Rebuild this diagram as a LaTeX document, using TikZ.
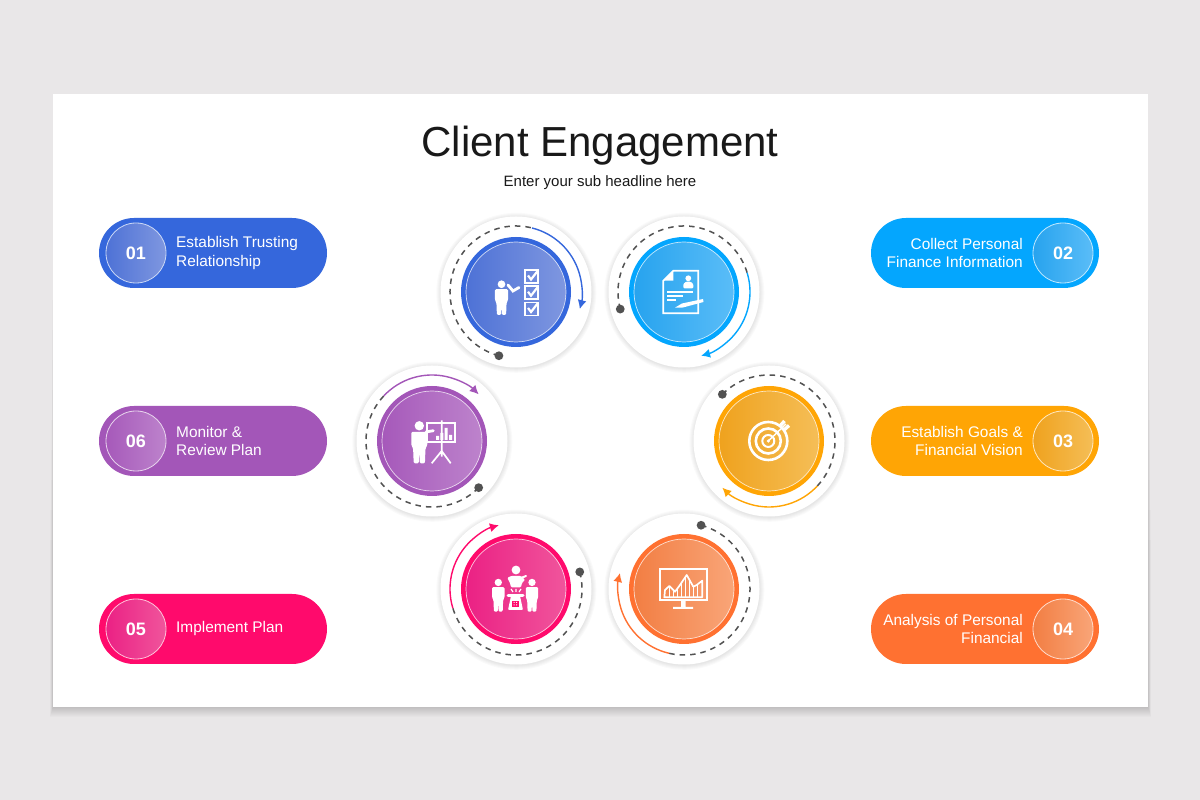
\documentclass[tikz,border=0pt]{standalone}
\usepackage{fontspec}
\setmainfont{Liberation Sans}
\usetikzlibrary{arrows.meta}

% ring colours
\definecolor{pageback}{HTML}{E9E7E8}
\definecolor{blueBase}{HTML}{3567DC}  \definecolor{blueLeft}{HTML}{4E72D6}  \definecolor{blueRight}{HTML}{7F97E0}
\definecolor{skyBase}{HTML}{04A6FE}   \definecolor{skyLeft}{HTML}{27A3EE}   \definecolor{skyRight}{HTML}{5ABDF8}
\definecolor{goldBase}{HTML}{FFA505}  \definecolor{goldLeft}{HTML}{EFA21E}  \definecolor{goldRight}{HTML}{F5BE57}
\definecolor{rustBase}{HTML}{FF7131}  \definecolor{rustLeft}{HTML}{F27E43}  \definecolor{rustRight}{HTML}{F9A578}
\definecolor{pinkBase}{HTML}{FF0A6C}  \definecolor{pinkLeft}{HTML}{EB2184}  \definecolor{pinkRight}{HTML}{F0559C}
\definecolor{plumBase}{HTML}{A356B8}  \definecolor{plumLeft}{HTML}{A659BA}  \definecolor{plumRight}{HTML}{BD83CC}

\tikzset{
  pill/.style={minimum width=228,minimum height=70,rounded corners=35,inner sep=0,fill=#1Base},
  badge/.style={circle,minimum size=60,inner sep=0,draw=white!75!#1Base,line width=.8,
    left color=#1Left,right color=#1Right,text=white,font=\bfseries\fontsize{18}{20}\selectfont},
  pilltext/.style={text=white,inner sep=0,font=\fontsize{15.4}{18.4}\selectfont},
  thickwhite/.style={white,line width=1.7}
}

% disc with its ring, dashed track and solid arrow: x, y, colour, dot angle, arrow start, arrow end
\newcommand{\stagedisc}[6]{
  \begin{scope}[shift={(#1,#2)}]
    \foreach \r in {5,4,3,2,1}
      \fill[black,opacity=.018] (.3,-.8) circle ({75+\r});
    \fill[white] (0,0) circle (75.5);
    \fill[#3Base] (0,0) circle (55);
    \shade[left color=#3Left,right color=#3Right] (0,0) circle (50);
    \draw[white,opacity=.75,line width=.7] (0,0) circle (50);
    \draw[black!68,line width=1.5,dash pattern=on 5.5 off 5] (#4:66) arc (#4:#5:66);
    \fill[black!68] (#4:66) circle (4.4);
    \draw[#3Base,line width=1.4,-{Latex[length=9,width=9]}] (#5:66) arc (#5:#6:66);
  \end{scope}
}
% standing figure, feet at x,y
\newcommand{\figureicon}[3]{
  \begin{scope}[shift={(#1,#2)},scale=#3]
    \fill[white] (0,37.5) circle (4.7);
    \fill[white,rounded corners=1.2] (-8,31.5) -- (8,31.5) -- (8,18) -- (6.2,15) -- (5.6,0) -- (.5,0)
      -- (.2,9) -- (-.2,9) -- (-.5,0) -- (-5.6,0) -- (-6.2,15) -- (-8,18) -- cycle;
  \end{scope}
}
\newcommand{\tickbox}[2]{
  \draw[thickwhite] (#1-6.5,#2-6.5) rectangle (#1+6.5,#2+6.5);
  \draw[white,line width=2.2] (#1-3.5,#2+1) -- (#1-.5,#2-3) -- (#1+6.5,#2+6);
}

\begin{document}
\begin{tikzpicture}[x=1pt,y=1pt]
\useasboundingbox (0,0) rectangle (1200,800);
\fill[pageback] (0,0) rectangle (1200,800);

%-------------------------------------------- Card
\foreach \d in {1,...,10}
  \fill[black,opacity=.014] ({53-.3*\d},{93-\d}) rectangle ({1148+.3*\d},{560-30*\d});
\fill[white] (53,93) rectangle (1148,706);
\node[font=\fontsize{42}{46}\selectfont,text=black!90] (title) at (600,654) {Client Engagement};
\node[font=\fontsize{15}{18}\selectfont,text=black!90] (subtitle) at (600,617) {Enter your sub headline here};

%-------------------------------------------- Left pills
\node[pill=blue] (pillone) at (213,547) {};
\node[badge=blue] (numone) at (136,547) {01};
\node[pilltext,anchor=west,align=left] (textone) at (176,547) {Establish Trusting\\Relationship};

\node[pill=plum] (pillsix) at (213,359) {};
\node[badge=plum] (numsix) at (136,359) {06};
\node[pilltext,anchor=west,align=left] (textsix) at (176,359) {Monitor \&\\Review Plan};

\node[pill=pink] (pillfive) at (213,171) {};
\node[badge=pink] (numfive) at (136,171) {05};
\node[pilltext,anchor=west,align=left] (textfive) at (176,171) {Implement Plan};

%-------------------------------------------- Right pills
\node[pill=sky] (pilltwo) at (985,547) {};
\node[badge=sky] (numtwo) at (1063,547) {02};
\node[pilltext,anchor=east,align=right] (texttwo) at (1023,547) {Collect Personal\\Finance Information};

\node[pill=gold] (pillthree) at (985,359) {};
\node[badge=gold] (numthree) at (1063,359) {03};
\node[pilltext,anchor=east,align=right] (textthree) at (1023,359) {Establish Goals \&\\Financial Vision};

\node[pill=rust] (pillfour) at (985,171) {};
\node[badge=rust] (numfour) at (1063,171) {04};
\node[pilltext,anchor=east,align=right] (textfour) at (1023,171) {Analysis of Personal\\Financial};

%-------------------------------------------- Discs
\stagedisc{516}{508}{blue}{255}{76}{-15}
\stagedisc{684}{508}{sky}{195}{17}{-75}
\stagedisc{769}{359}{gold}{135}{-43}{-135}
\stagedisc{684}{211}{rust}{75}{-103}{-194}
\stagedisc{516}{211}{pink}{15}{-163}{-255}
\stagedisc{432}{359}{plum}{-45}{-223}{-315}

%-------------------------------------------- Icon 01, checklist
\begin{scope}[shift={(516,508)}]
  \figureicon{-14.5}{-23}{.82}
  \draw[white,line width=2.8,line cap=round] (-8,7) -- (-3,1) -- (3,4.5);
  \tickbox{15.5}{15.5} \tickbox{15.5}{-.7} \tickbox{15.5}{-17}
\end{scope}

%-------------------------------------------- Icon 02, document
\begin{scope}[shift={(684,508)}]
  \draw[thickwhite] (-20.7,11.3) -- (-10.7,21.3) -- (14.3,21.3) -- (14.3,-21.3) -- (-20.7,-21.3) -- cycle;
  \fill[white] (-20.7,11.3) -- (-10.7,11.3) -- (-10.7,21.3) -- cycle;
  \fill[white] (4.3,13.7) circle (2.9);
  \fill[white,rounded corners=1] (-.7,3.7) -- (-.7,8) -- (2,10.3) -- (6.6,10.3) -- (9.3,8) -- (9.3,3.7) -- cycle;
  \draw[thickwhite] (-16.7,.3) -- (9.3,.3) (-16.7,-4) -- (-.7,-4) (-16.7,-8) -- (-8,-8);
  \fill[white] (-9,-15.7) -- (-2,-11.5) -- (19,-7) -- (19.5,-10) -- (-1,-15.5) -- cycle;
\end{scope}

%-------------------------------------------- Icon 03, target
\begin{scope}[shift={(769,359)}]
  \draw[white,line width=2.6] (-.7,0) circle (19) (-.7,0) circle (12.5);
  \draw[white,line width=2] (-.7,0) circle (6);
  \fill[white] (-.7,0) circle (1.8);
  \draw[white,line width=1.4] (-.7,0) -- (17,17);
  \draw[white,line width=3.4] (11,15) -- (15.5,20) (15,11) -- (20,15.5);
\end{scope}

%-------------------------------------------- Icon 04, chart on a screen
\begin{scope}[shift={(684,211)}]
  \draw[white,line width=2] (-24,-11) rectangle (22.7,20);
  \fill[white] (-3,-11) rectangle (1.6,-18) (-11,-18) rectangle (9,-20);
  \draw[thickwhite,line join=round] (-19.7,-8.3) -- (-19,-1) -- (-14.7,3) -- (-9,-2.7) -- (-4,4) -- (2.7,14)
    -- (9.3,2.3) -- (12.7,4) -- (18.3,8.3) -- (18.3,-8.3) -- cycle;
  \draw[white,line width=1] (-15,-8.3) -- (-15,3) (-11,-8.3) -- (-11,-1) (-7,-8.3) -- (-7,-.5) (-3,-8.3) -- (-3,5.5)
    (1,-8.3) -- (1,11.5) (5,-8.3) -- (5,9.5) (9,-8.3) -- (9,3) (13,-8.3) -- (13,4.3);
\end{scope}

%-------------------------------------------- Icon 05, group and telephone
\begin{scope}[shift={(516,211)}]
  \figureicon{-17.7}{-22.7}{.78}
  \figureicon{16}{-22.7}{.78}
  \fill[white] (0,19) circle (4.4);
  \fill[white,rounded corners=1] (-8.7,11) -- (-5,13) -- (5,13) -- (9,9) -- (6,6) -- (5,1.7) -- (-5,1.7) -- (-6,6) -- cycle;
  \draw[white,line width=2,line cap=round] (5,11) -- (10,13);
  \draw[white,line width=1.2] (0,0) -- (0,-3) (-5,0) -- (-3,-3) (5,0) -- (3,-3);
  \draw[white,line width=3,line cap=round] (-8,-7) -- (7,-7);
  \fill[white,rounded corners=1] (-5,-7) -- (4,-7) -- (7,-21) -- (-8,-21) -- cycle;
  \fill[pinkBase] (-4,-12) rectangle (3,-18);
  \fill[white] (-2.4,-14) rectangle (-1.4,-13) (0,-14) rectangle (1,-13) (-2.4,-16.5) rectangle (-1.4,-15.5) (0,-16.5) rectangle (1,-15.5);
\end{scope}

%-------------------------------------------- Icon 06, presenter at a board
\begin{scope}[shift={(432,359)}]
  \figureicon{-12.7}{-22.3}{1}
  \draw[white,line width=2.8,line cap=round] (-6,9) -- (1.3,10.3);
  \draw[thickwhite] (-4.7,-.7) rectangle (23,18.3);
  \draw[thickwhite] (9.7,20.7) -- (9.7,-15.7) (-.3,-22.3) -- (9.7,-10) -- (18.7,-22.3);
  \fill[white] (4,1) rectangle (7,5) (8.3,1) rectangle (11.3,8) (12.6,1) rectangle (15.6,13) (17,1) rectangle (20,6);
\end{scope}

\end{tikzpicture}
\end{document}
